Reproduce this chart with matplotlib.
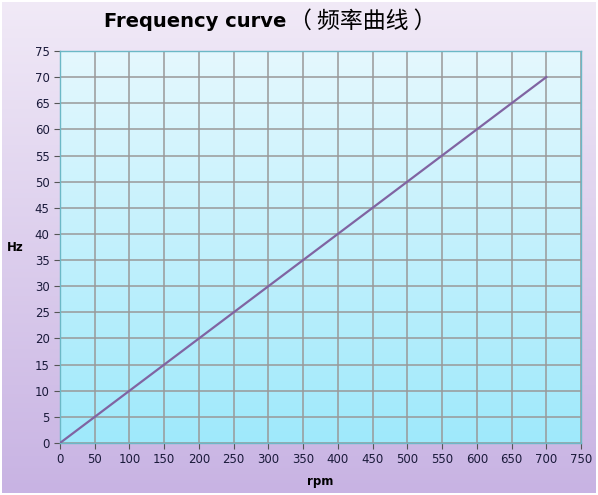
import matplotlib.pyplot as plt
import numpy as np
from matplotlib.colors import LinearSegmentedColormap

plt.rcParams['font.family'] = ['DejaVu Sans', 'Noto Sans CJK SC']

# data
rpm = [0, 50, 100, 150, 200, 250, 300, 350, 400, 450, 500, 550, 600, 650, 700]
hz = [0, 5, 10, 15, 20, 25, 30, 35, 40, 45, 50, 55, 60, 65, 70]
xticks = list(range(0, 751, 50))
yticks = list(range(0, 76, 5))

fig = plt.figure(figsize=(5.98, 4.95), dpi=100)
fig.patch.set_facecolor('white')

# figure background gradient (lavender), thin white frame around it
bg = fig.add_axes([0.004, 0.004, 0.992, 0.992], zorder=-10)
bg_cmap = LinearSegmentedColormap.from_list('bg', ['#c8b3e3', '#f1eaf7'])
grad = np.linspace(0, 1, 256).reshape(-1, 1)
bg.imshow(grad, aspect='auto', cmap=bg_cmap, origin='lower', extent=[0, 1, 0, 1])
bg.axis('off')

ax = fig.add_axes([0.1003, 0.105, 0.8713, 0.792])
plot_cmap = LinearSegmentedColormap.from_list('pa', ['#9fe9fb', '#e5f8fe'])
ax.imshow(grad, aspect='auto', cmap=plot_cmap, origin='lower',
          extent=[0, 750, 0, 75], zorder=0)

ax.plot(rpm, hz, color='#8064a2', linewidth=1.6, zorder=3)

ax.set_xlim(0, 750)
ax.set_ylim(0, 75)
ax.set_xticks(xticks)
ax.set_yticks(yticks)
ax.grid(True, color='#999999', linewidth=1.1, zorder=1)
for s in ax.spines.values():
    s.set_color('#6cb8c6')
    s.set_linewidth(1)
ax.tick_params(axis='both', labelsize=8.5, colors='#555555', length=4,
               width=0.8, labelcolor='#1a1a3a')

ax.set_xlabel('rpm', fontsize=8.5, fontweight='bold', labelpad=6)
ax.set_ylabel('Hz', fontsize=8.5, fontweight='bold', rotation=0, labelpad=14,
              va='center')

# title: latin part bold, chinese part in a CJK face
fig.text(0.479, 0.957, 'Frequency curve', fontsize=14,
         fontweight='bold', ha='right', va='center')
fig.text(0.483, 0.957, '（ 频率曲线 ）', fontsize=16.5,
         family=['Noto Sans CJK SC'], fontweight='medium',
         ha='left', va='center')

fig.savefig('out.png', dpi=100)
